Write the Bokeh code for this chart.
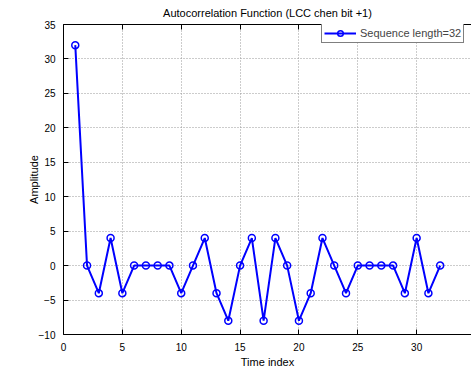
from bokeh.plotting import figure
from bokeh.models import Range1d, LinearAxis, SingleIntervalTicker, Legend, LegendItem, Title
from bokeh.embed import file_html
from bokeh.resources import INLINE

time_index = list(range(1, 33))
amplitude = [32, 0, -4, 4, -4, 0, 0, 0, 0, -4, 0, 4, -4, -8, 0, 4,
             -8, 4, 0, -8, -4, 4, 0, -4, 0, 0, 0, 0, -4, 4, -4, 0]
title_text = "Autocorrelation Function (LCC chen bit +1)"
x_label = "Time index"
y_label = "Amplitude"
legend_label = "Sequence length=32"

FONT = "Liberation Sans"
BLUE = "#0000ff"

p = figure(width=471, height=370, output_backend="svg", toolbar_location=None,
           x_range=Range1d(0, 34.66), y_range=Range1d(-10, 35),
           min_border_left=63, min_border_right=0, min_border_top=24, min_border_bottom=32,
           x_axis_location="below")
p.outline_line_color = None
p.background_fill_color = "white"
p.border_fill_color = "white"

ln = p.line(time_index, amplitude, line_color=BLUE, line_width=2)
mk = p.scatter(time_index, amplitude, marker="circle", size=7, line_color=BLUE,
               line_width=1.5, fill_color=None)

for ax in (p.xaxis[0], p.yaxis[0]):
    ax.major_tick_in = 5
    ax.major_tick_out = 0
    ax.minor_tick_line_color = None
    ax.axis_line_color = "black"
    ax.major_tick_line_color = "black"
    ax.major_label_text_font = FONT
    ax.major_label_text_font_size = "10px"
    ax.major_label_text_color = "black"
    ax.axis_label_text_font = FONT
    ax.axis_label_text_font_size = "11px"
    ax.axis_label_text_font_style = "normal"
    ax.axis_label_text_color = "black"

p.xaxis[0].ticker = SingleIntervalTicker(interval=5)
p.yaxis[0].ticker = SingleIntervalTicker(interval=5)
p.xaxis[0].axis_label = x_label
p.yaxis[0].axis_label = y_label
p.xaxis[0].major_label_standoff = 4
p.xaxis[0].axis_label_standoff = 2
p.yaxis[0].major_label_standoff = 4
p.yaxis[0].axis_label_standoff = -4

top = LinearAxis(ticker=SingleIntervalTicker(interval=5), major_tick_in=5, major_tick_out=0,
                 minor_tick_line_color=None, major_label_text_font_size="0px",
                 axis_line_color="black", major_tick_line_color="black")
top.major_label_text_color = None
p.add_layout(top, "above")

p.xgrid.ticker = SingleIntervalTicker(interval=5)
p.ygrid.ticker = SingleIntervalTicker(interval=5)
for g in (p.xgrid[0], p.ygrid[0]):
    g.grid_line_color = "#999999"
    g.grid_line_dash = "1 2"
    g.grid_line_width = 1

t = Title(text=title_text, text_font=FONT, text_font_size="11px", text_font_style="normal",
          align="center", text_color="black", standoff=4)
p.add_layout(t, "above")

legend = Legend(items=[LegendItem(label=legend_label, renderers=[ln, mk])],
                location=(258, 291), label_text_font=FONT, label_text_font_size="11px",
                border_line_color="black", border_line_width=1, background_fill_alpha=1,
                glyph_width=32, glyph_height=14, padding=2, margin=0, label_standoff=4,
                label_height=14, spacing=0)
p.add_layout(legend, "center")

open("out.html", "w").write(file_html(p, INLINE))
